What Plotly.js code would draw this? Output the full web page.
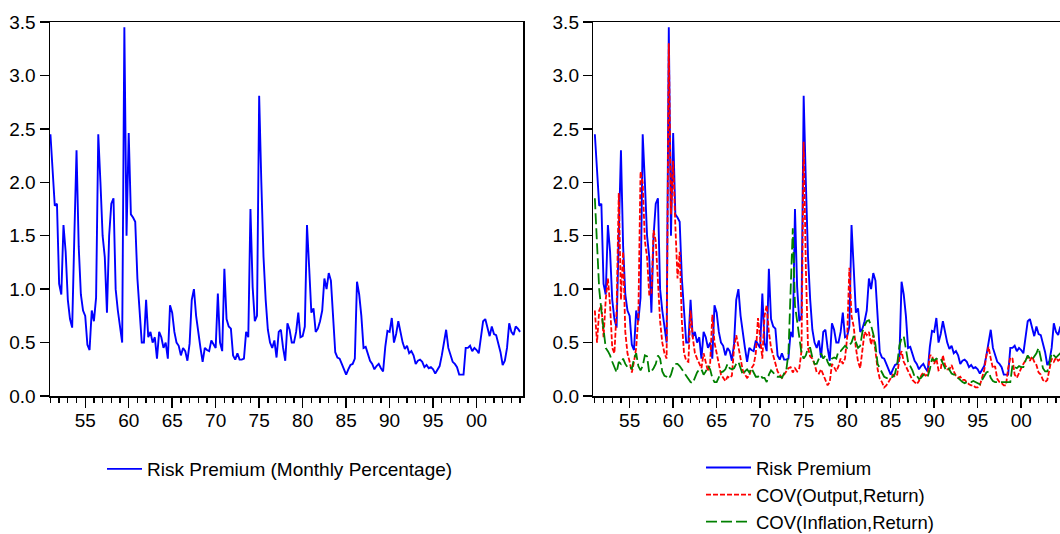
<!DOCTYPE html>
<html>
<head>
<meta charset="utf-8">
<script src="https://cdn.plot.ly/plotly-3.0.1.min.js"></script>
<style>
  html, body { margin: 0; padding: 0; background: #ffffff; }
  #chart { width: 1060px; height: 534px; }
</style>
</head>
<body>
<div id="chart"></div>
<script>
// Quarterly observations starting 1951Q1
const startYear = 1951;
const periodsPerYear = 4;

// Risk Premium (monthly percentage)
const riskPremium = [
  2.45, 2.1, 1.78, 1.8, 1.05, 0.95, 1.6, 1.35, 0.9, 0.72,
  0.64, 1.5, 2.3, 1.4, 0.95, 0.8, 0.75, 0.48, 0.43, 0.8,
  0.7, 0.92, 2.45, 2.0, 1.5, 1.3, 0.78, 1.5, 1.8, 1.85,
  1.0, 0.8, 0.63, 0.5, 3.45, 1.5, 2.46, 1.7, 1.67, 1.63,
  1.1, 0.82, 0.5, 0.5, 0.9, 0.55, 0.6, 0.5, 0.55, 0.35,
  0.6, 0.55, 0.45, 0.5, 0.35, 0.85, 0.78, 0.6, 0.5, 0.47,
  0.38, 0.45, 0.42, 0.33, 0.49, 0.9, 1.0, 0.75, 0.57, 0.45,
  0.32, 0.45, 0.43, 0.42, 0.52, 0.48, 0.45, 0.96, 0.5, 0.42,
  1.19, 0.72, 0.65, 0.63, 0.38, 0.34, 0.4, 0.34, 0.34, 0.35,
  0.6, 0.55, 1.75, 1.02, 0.7, 0.75, 2.81, 2.0, 1.3, 0.9,
  0.62, 0.5, 0.45, 0.52, 0.36, 0.6, 0.62, 0.45, 0.33, 0.68,
  0.62, 0.5, 0.5, 0.6, 0.78, 0.55, 0.56, 0.65, 1.6, 1.2,
  0.78, 0.82, 0.6, 0.63, 0.7, 0.8, 1.1, 1.0, 1.15, 1.08,
  0.68, 0.41, 0.36, 0.35, 0.3, 0.24, 0.2, 0.25, 0.29, 0.3,
  0.35, 1.07, 0.95, 0.75, 0.45, 0.46, 0.4, 0.33, 0.3, 0.25,
  0.28, 0.3, 0.26, 0.23, 0.46, 0.61, 0.6, 0.73, 0.5, 0.58,
  0.7, 0.59, 0.5, 0.44, 0.47, 0.4, 0.42, 0.38, 0.3, 0.33,
  0.34, 0.32, 0.27, 0.29, 0.26, 0.27, 0.25, 0.21, 0.24, 0.28,
  0.38, 0.5, 0.62, 0.45, 0.38, 0.32, 0.3, 0.27, 0.2, 0.2,
  0.2, 0.45, 0.45, 0.47, 0.42, 0.45, 0.43, 0.4, 0.55, 0.7,
  0.72, 0.65, 0.56, 0.65, 0.58, 0.57, 0.5, 0.41, 0.29, 0.33,
  0.45, 0.68, 0.6, 0.57, 0.65, 0.63, 0.6
];

// COV(Output,Return)
const covOutput = [
  0.8, 0.5, 0.8, 0.85, 0.55, 0.9, 1.1, 0.85, 0.45, 0.4,
  0.8, 1.9, 0.9, 1.35, 0.6, 0.4, 0.32, 0.22, 0.32, 0.45,
  0.75, 2.1, 2.0, 1.45, 1.3, 0.95, 0.95, 1.55, 1.45, 1.1,
  0.7, 0.5, 0.4, 0.35, 3.3, 1.7, 2.2, 1.6, 1.1, 1.35,
  0.7, 0.4, 0.33, 0.32, 0.8, 0.55, 0.4, 0.35, 0.3, 0.26,
  0.4, 0.3, 0.23, 0.3, 0.76, 0.5, 0.38, 0.3, 0.2, 0.17,
  0.14, 0.18, 0.17, 0.19, 0.45, 0.57, 0.45, 0.32, 0.24, 0.2,
  0.17, 0.19, 0.26, 0.29, 0.4, 0.73, 0.55, 0.35, 0.75, 0.85,
  0.6, 0.45, 0.38, 0.3, 0.23, 0.2, 0.17, 0.2, 0.23, 0.26,
  0.27, 0.22, 0.26, 0.23, 0.26, 0.42, 2.38, 1.2, 0.45, 0.37,
  0.35, 0.3, 0.22, 0.21, 0.25, 0.2, 0.15, 0.1, 0.13, 0.3,
  0.27, 0.23, 0.28, 0.35, 0.3, 0.35, 0.55, 1.2, 0.75, 0.65,
  0.45, 0.32, 0.26, 0.45, 0.6, 0.57, 0.6, 0.48, 0.57, 0.42,
  0.25, 0.16, 0.13, 0.08, 0.1, 0.13, 0.17, 0.2, 0.18, 0.2,
  0.35, 0.42, 0.32, 0.28, 0.23, 0.19, 0.15, 0.13, 0.11, 0.14,
  0.19, 0.22, 0.19, 0.2, 0.38, 0.38, 0.3, 0.35, 0.24, 0.25,
  0.38, 0.29, 0.25, 0.25, 0.29, 0.23, 0.19, 0.17, 0.18, 0.15,
  0.15, 0.13, 0.11, 0.1, 0.1, 0.08, 0.08, 0.1, 0.16, 0.24,
  0.38, 0.46, 0.35, 0.26, 0.28, 0.16, 0.13, 0.12, 0.1, 0.1,
  0.26, 0.36, 0.35, 0.2, 0.17, 0.22, 0.26, 0.3, 0.33, 0.37,
  0.33, 0.37, 0.32, 0.29, 0.22, 0.2, 0.15, 0.13, 0.15, 0.25,
  0.35, 0.32, 0.36, 0.33, 0.35, 0.36, 0.35
];

// COV(Inflation,Return)
const covInflation = [
  1.85, 1.4, 1.0, 0.8, 0.6, 0.45, 0.42, 0.38, 0.32, 0.27,
  0.22, 0.32, 0.3, 0.35, 0.3, 0.27, 0.28, 0.25, 0.35, 0.4,
  0.28, 0.24, 0.28, 0.38, 0.37, 0.22, 0.23, 0.26, 0.3, 0.38,
  0.35, 0.23, 0.19, 0.18, 0.16, 0.2, 0.27, 0.3, 0.3, 0.28,
  0.25, 0.22, 0.19, 0.15, 0.13, 0.12, 0.18, 0.22, 0.25, 0.25,
  0.2, 0.23, 0.28, 0.25, 0.17, 0.13, 0.13, 0.17, 0.22, 0.23,
  0.25, 0.3, 0.26, 0.25, 0.26, 0.3, 0.32, 0.26, 0.2, 0.23,
  0.25, 0.22, 0.26, 0.22, 0.18, 0.18, 0.2, 0.17, 0.17, 0.13,
  0.2, 0.24, 0.22, 0.19, 0.18, 0.18, 0.17, 0.21, 0.24, 0.4,
  1.0, 1.57, 0.85, 0.7, 0.55, 0.4, 0.35, 0.38, 0.45, 0.45,
  0.36, 0.3, 0.3, 0.36, 0.4, 0.35, 0.38, 0.32, 0.28, 0.35,
  0.36, 0.35, 0.42, 0.42, 0.45, 0.47, 0.45, 0.48, 0.5, 0.56,
  0.5, 0.45, 0.47, 0.6, 0.66, 0.7, 0.71, 0.66, 0.58, 0.48,
  0.3, 0.26, 0.22, 0.18, 0.17, 0.16, 0.17, 0.18, 0.21, 0.3,
  0.47, 0.54, 0.56, 0.42, 0.32, 0.28, 0.24, 0.18, 0.19, 0.16,
  0.17, 0.2, 0.18, 0.18, 0.25, 0.35, 0.33, 0.35, 0.34, 0.35,
  0.3, 0.26, 0.28, 0.24, 0.21, 0.2, 0.2, 0.17, 0.15, 0.13,
  0.12, 0.13, 0.13, 0.13, 0.14, 0.13, 0.12, 0.11, 0.15, 0.19,
  0.22, 0.23, 0.17, 0.14, 0.13, 0.13, 0.13, 0.13, 0.13, 0.13,
  0.13, 0.13, 0.29, 0.27, 0.26, 0.28, 0.27, 0.27, 0.33, 0.38,
  0.35, 0.34, 0.37, 0.4, 0.45, 0.35, 0.26, 0.23, 0.23, 0.3,
  0.4, 0.38, 0.36, 0.38, 0.4, 0.42, 0.4
];

// Axis tick labels
const tickYears = [1955, 1960, 1965, 1970, 1975, 1980, 1985, 1990, 1995, 2000];
const tickLabels = ["55", "60", "65", "70", "75", "80", "85", "90", "95", "00"];

const dates = riskPremium.map((_, i) => startYear + i / periodsPerYear);

const FONT = "Liberation Sans, Arial, Helvetica, sans-serif";

const traces = [
  { x: dates, y: riskPremium, xaxis: "x", yaxis: "y", type: "scatter", mode: "lines",
    name: "Risk Premium (Monthly Percentage)", legend: "legend",
    line: { color: "#0000FF", width: 1.9 } },
  { x: dates, y: riskPremium, xaxis: "x2", yaxis: "y2", type: "scatter", mode: "lines",
    name: "Risk Premium", legend: "legend2",
    line: { color: "#0000FF", width: 1.9 } },
  { x: dates, y: covOutput, xaxis: "x2", yaxis: "y2", type: "scatter", mode: "lines",
    name: "COV(Output,Return)", legend: "legend2",
    line: { color: "#FF0000", width: 1.8, dash: "5px,2px" } },
  { x: dates, y: covInflation, xaxis: "x2", yaxis: "y2", type: "scatter", mode: "lines",
    name: "COV(Inflation,Return)", legend: "legend2",
    line: { color: "#008000", width: 1.8, dash: "11px,4px" } }
];

function xAxis(domain, range) {
  return {
    domain: domain, range: range, type: "linear",
    showgrid: false, zeroline: false,
    showline: true, linecolor: "#000", linewidth: 1.5, mirror: true,
    tickmode: "array", tickvals: tickYears, ticktext: tickLabels,
    ticks: "outside", ticklen: 10, tickwidth: 1.4, tickcolor: "#000",
    ticklabelstandoff: -3,
    minor: { tickmode: "linear", tick0: 1951, dtick: 1, ticks: "outside",
             ticklen: 5, tickwidth: 1.3, tickcolor: "#000", showgrid: false },
    tickfont: { family: FONT, size: 19, color: "#000" }
  };
}
function yAxis(anchor, mirror) {
  return {
    anchor: anchor, domain: [0, 1], range: [0, 3.5],
    showgrid: false, zeroline: false,
    showline: true, linecolor: "#000", linewidth: 1.5, mirror: mirror,
    tickmode: "linear", tick0: 0, dtick: 0.5, tickformat: ".1f",
    ticks: "outside", ticklen: 9, tickwidth: 1.4, tickcolor: "#000",
    tickfont: { family: FONT, size: 19, color: "#000" }
  };
}

const layout = {
  width: 1060, height: 534,
  margin: { l: 50, r: 0, t: 22, b: 138, pad: 0, autoexpand: false },
  paper_bgcolor: "#fff", plot_bgcolor: "#fff",
  font: { family: FONT, size: 19, color: "#000" },
  showlegend: true,
  xaxis: Object.assign(xAxis([0, 0.4686], [1950.95, 2005.37]), { anchor: "y" }),
  yaxis: yAxis("x", true),
  xaxis2: Object.assign(xAxis([0.5379, 1], [1950.82, 2004.46]), { anchor: "y2" }),
  yaxis2: yAxis("x2", false),
  legend: {
    x: (102 - 50) / 1010, xanchor: "left",
    y: (396 - 450) / 374, yanchor: "top",
    bgcolor: "rgba(0,0,0,0)", borderwidth: 0,
    itemwidth: 35, font: { family: FONT, size: 19, color: "#000" }
  },
  legend2: {
    x: (701 - 50) / 1010, xanchor: "left",
    y: (396 - 449) / 374, yanchor: "top",
    bgcolor: "rgba(0,0,0,0)", borderwidth: 0,
    itemwidth: 45, tracegroupgap: 0,
    font: { family: FONT, size: 18.5, color: "#000" }
  }
};

Plotly.newPlot("chart", traces, layout, { staticPlot: true, displayModeBar: false });
</script>
</body>
</html>
